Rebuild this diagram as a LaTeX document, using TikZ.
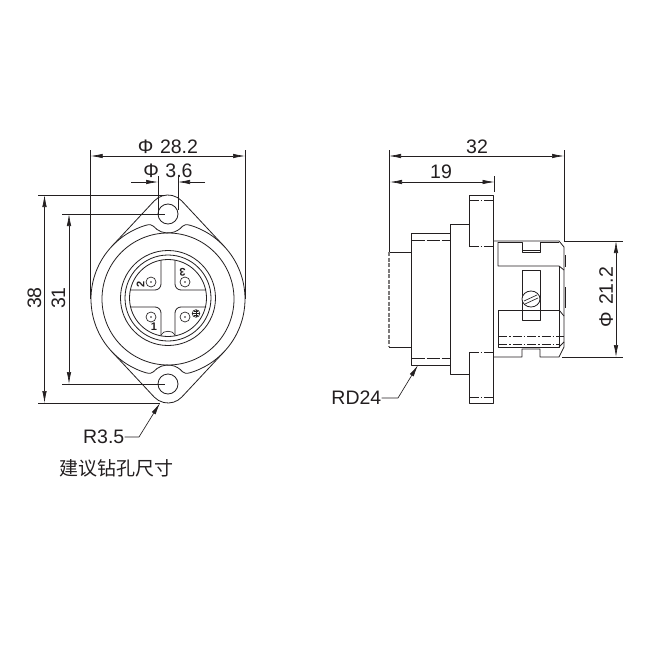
\documentclass[tikz,border=0pt]{standalone}
\usepackage{fontspec}
\setmainfont{Liberation Sans}
\newfontfamily\cjk{Noto Sans CJK SC}
\usetikzlibrary{arrows.meta,calc}
\definecolor{ink}{HTML}{231F20}
\tikzset{
  part/.style={draw=ink,line width=0.8pt,line join=round},
  thinpart/.style={draw=ink,line width=0.65pt},
  ext/.style={draw=ink,line width=0.65pt},
  dim/.style={draw=ink,line width=0.65pt,{Latex[length=12pt,width=4.5pt]}-{Latex[length=12pt,width=4.5pt]}},
  lead/.style={draw=ink,line width=0.65pt,-{Latex[length=12pt,width=4.5pt]}},
  hid/.style={draw=ink,line width=0.65pt,dash pattern=on 9pt off 2pt on 1.5pt off 2pt},
  longdash/.style={draw=ink,line width=0.65pt,dash pattern=on 13pt off 2pt},
  lbl/.style={text=ink,font=\fontsize{19.5}{21}\selectfont,inner sep=0pt},
  pinlbl/.style={text=ink,font=\fontsize{11}{12}\selectfont\bfseries,inner sep=0pt}
}
\begin{document}
\begin{tikzpicture}[yscale=-1,x=1pt,y=1pt]
\useasboundingbox (0,0) rectangle (658,658);
\fill[white] (0,0) rectangle (658,658);
% ---- front view
\coordinate (C) at (168,299);
\coordinate (P) at (168,298);
\coordinate (LT) at (168,214);
\coordinate (LB) at (168,384);
% outer profile
\draw[part] ($(C)+(137:77)$) arc[start angle=137,end angle=223,radius=77pt]
  -- ($(LT)+(223:19)$) arc[start angle=223,end angle=317,radius=19pt]
  -- ($(C)+(317:77)$) arc[start angle=317,end angle=403,radius=77pt]
  -- ($(LB)+(43:19)$) arc[start angle=43,end angle=137,radius=19pt] -- cycle;
% flange outline under the lugs
\draw[part] ($(C)+(223:77)$) arc[start angle=223,end angle=253,radius=77pt]
  .. controls +(4,-1) and +(-2,-2) .. ($(LT)+(140:19)$)
  arc[start angle=140,end angle=40,radius=19pt]
  .. controls +(2,-2) and +(-4,-1) .. ($(C)+(287:77)$)
  arc[start angle=287,end angle=317,radius=77pt];
\draw[part] ($(C)+(137:77)$) arc[start angle=137,end angle=107,radius=77pt]
  .. controls +(4,1) and +(-2,2) .. ($(LB)+(220:19)$)
  arc[start angle=220,end angle=320,radius=19pt]
  .. controls +(2,2) and +(-4,1) .. ($(C)+(73:77)$)
  arc[start angle=73,end angle=43,radius=77pt];
\draw[part] (C) circle[radius=66pt];
\draw[part] (LT) circle[radius=10pt];
\draw[part] (LB) circle[radius=10pt];
% insert
\draw[part] (P) circle[radius=47.5pt];
\draw[part] (P) circle[radius=43pt];
\draw[part] (P) circle[radius=38.5pt];
\draw[part,rounded corners=6pt] (130,290) -- (161,290) -- (161,260);
\draw[part,rounded corners=6pt] (206,290) -- (175,290) -- (175,260);
\draw[part,rounded corners=6pt] (130,307) -- (161,307) -- (161,336);
\draw[part,rounded corners=6pt] (206,307) -- (175,307) -- (175,336);
\draw[thinpart] (161,335) .. controls (163,330) and (173,330) .. (175,335);
\foreach \n/\px/\py in {a/151/282,b/185/282,c/151/317,d/185/317}{
  \draw[thinpart] (\px,\py) circle[radius=5pt];
  \fill[ink] (\px,\py) circle[radius=0.8pt];
}
\node[pinlbl,rotate=90] (pin2) at (140.5,284) {2};
\node[pinlbl,rotate=180] (pin3) at (182.5,272) {3};
\node[pinlbl] (pin1) at (154,326.7) {1};
\coordinate (G) at (196,313.5);
\draw[thinpart] (G) circle[radius=3.8pt];
\draw[thinpart] ($(G)+(-3.8,0)$) -- ($(G)+(3.8,0)$) ($(G)+(0,-3.8)$) -- ($(G)+(0,3.8)$);
\draw[thinpart] ($(G)+(-2.4,-1.8)$) -- ($(G)+(2.4,-1.8)$) ($(G)+(-2.4,1.8)$) -- ($(G)+(2.4,1.8)$);
% front view dimensions
\coordinate (ExL) at (90.7,150);
\coordinate (ExLe) at (90.7,299);
\coordinate (ExR) at (245,150);
\coordinate (ExRe) at (245,299);
\draw[ext] (ExL) -- (ExLe);
\draw[ext] (ExR) -- (ExRe);
\draw[dim] (90.7,156) -- (245,156);
\node[lbl] (t282) at (168,146.5) {Φ\,\,28.2};
\draw[ext] (158,176) -- (158,214);
\draw[ext] (178,176) -- (178,210);
\draw[lead] (131,182) -- (158,182);
\draw[lead] (205,182) -- (178,182);
\node[lbl] (t36) at (168,171) {Φ\,\,3.6};
\draw[ext] (38,195) -- (165,195);
\draw[ext] (38,403) -- (160,403);
\draw[ext] (62,214) -- (165,214);
\draw[ext] (62,384) -- (165,384);
\draw[dim] (44.5,195) -- (44.5,403);
\draw[dim] (69,214) -- (69,384);
\node[lbl,rotate=90] (t38) at (34.5,298) {38};
\node[lbl,rotate=90] (t31) at (58.5,298) {31};
\node[lbl,anchor=east] (tR) at (124.5,437) {R3.5};
\coordinate (Rj) at (139,437);
\coordinate (Rt) at (160,403);
\draw[lead] (tR.east) -- (Rj) -- (Rt);
\node[text=ink,inner sep=0pt,font=\cjk\fontsize{19}{21}\selectfont] (tcn) at (116.5,468) {建议钻孔尺寸};
% ---- side view
\draw[part] (411.5,252) -- (389,252);
\draw[draw=ink!60,line width=1.3pt,dash pattern=on 4pt off 1.5pt] (389,252) -- (389,347);
\draw[part] (389,347) -- (411.5,347);
\draw[part] (411.5,233) rectangle (450,365);
\draw[longdash] (411.5,240) -- (450,240);
\draw[longdash] (411.5,358) -- (450,358);
\draw[part] (450,233) -- (450,224.7) -- (469.5,224.7);
\draw[part] (450,233) -- (450,374) -- (469.5,374);
\draw[part] (469.5,247) -- (469.5,195) -- (493,195) -- (493,403) -- (469.5,403) -- (469.5,352);
\draw[hid] (469.5,200.7) -- (493,200.7);
\draw[hid] (469.5,246.7) -- (493,246.7);
\draw[hid] (469.5,352) -- (493,352);
\draw[hid] (469.5,397) -- (493,397);
% rear body
\draw[part] (493,241) -- (559,241) -- (564,247) -- (564,347) -- (559,357) -- (540,357) -- (540,349) -- (522,349) -- (522,357) -- (493,357);
\draw[part] (498,242) -- (522,242) -- (522,252) -- (540,252) -- (540,242) -- (559,242);
\draw[thinpart] (522,250) -- (540,250);
\draw[part] (498,242) -- (498,266) -- (559,266) -- (564,270);
\draw[part] (559,266) -- (559,310);
\draw[part] (498,310) rectangle (559,347);
\draw[part] (559,310) -- (564,316);
\draw[part] (559,347) -- (564,342);
\draw[hid] (498,336.7) -- (564,336.7);
\draw[hid] (498,344.7) -- (559,344.7);
\draw[part] (522,270) rectangle (540,320);
\draw[part,line width=1.1pt] (565.5,255) -- (565.5,267);
\draw[part,line width=1.1pt] (565.5,287) -- (565.5,308);
\draw[part,fill=white] (531,299) ellipse[x radius=9pt,y radius=8pt];
\draw[thinpart] (524,301) -- (537,295) (525,304) -- (538,298);
% side view dimensions
\draw[ext] (389,150) -- (389,252);
\draw[ext] (564,150) -- (564,241);
\draw[dim] (389,156) -- (564,156);
\node[lbl] (t32) at (477,146.5) {32};
\draw[ext] (494.5,176) -- (494.5,192);
\draw[dim] (390,182) -- (494.5,182);
\node[lbl] (t19) at (441,172) {19};
\draw[ext] (564,241) -- (623,241);
\draw[ext] (562,357) -- (623,357);
\draw[dim] (616,241) -- (616,357);
\node[lbl,rotate=90] (t212) at (606,297) {Φ\,\,21.2};
\node[lbl,anchor=east] (tRD) at (381.5,398) {RD24};
\coordinate (RDj) at (398,398);
\coordinate (RDt) at (418,365);
\draw[lead] (tRD.east) -- (RDj) -- (RDt);
\end{tikzpicture}
\end{document}
